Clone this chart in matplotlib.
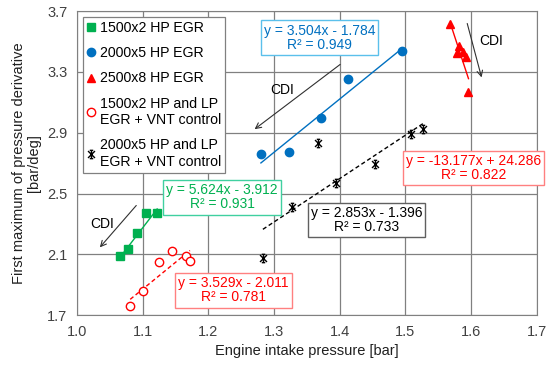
import numpy as np
import matplotlib
matplotlib.use("Agg")
import matplotlib.pyplot as plt
from matplotlib.path import Path

plt.rcParams['font.family'] = ['Liberation Sans', 'DejaVu Sans']

# data
x_g = [1.065, 1.078, 1.092, 1.105, 1.122]
y_g = [2.090, 2.134, 2.241, 2.369, 2.373]

x_b = [1.280, 1.323, 1.372, 1.413, 1.495]
y_b = [2.759, 2.774, 2.994, 3.255, 3.439]

x_t = [1.568, 1.582, 1.579, 1.588, 1.592, 1.596]
y_t = [3.614, 3.470, 3.422, 3.432, 3.395, 3.169]

x_o = [1.081, 1.100, 1.125, 1.145, 1.166, 1.172]
y_o = [1.761, 1.860, 2.047, 2.123, 2.088, 2.055]

x_s = [1.283, 1.327, 1.367, 1.394, 1.454, 1.508, 1.527]
y_s = [2.073, 2.409, 2.834, 2.570, 2.691, 2.891, 2.922]

labels = ["1500x2 HP EGR", "2000x5 HP EGR", "2500x8 HP EGR",
          "1500x2 HP and LP\nEGR + VNT control",
          "2000x5 HP and LP\nEGR + VNT control"]

# trendline coefficients (slope, intercept, r2)
fit_g = (5.624, -3.912, 0.931)
fit_b = (3.504, -1.784, 0.949)
fit_t = (-13.177, 24.286, 0.822)
fit_o = (3.529, -2.011, 0.781)
fit_s = (2.853, -1.396, 0.733)

green = '#00B050'
blue = '#0070C0'
red = '#FF0000'

star = Path([(-1, -1), (1, 1), (-1, 1), (1, -1), (0, -1.2), (0, 1.2),
             (-0.5, 1.2), (0.5, 1.2), (-0.5, -1.2), (0.5, -1.2)],
            [Path.MOVETO, Path.LINETO] * 5)

fig = plt.figure(figsize=(5.5, 3.69), dpi=100)
ax = fig.add_axes([0.14, 0.146, 0.836, 0.824])

ax.plot(x_g, y_g, 's', color=green, ms=5.5, label=labels[0], zorder=3)
ax.plot(x_b, y_b, 'o', color=blue, ms=6, label=labels[1], zorder=3)
ax.plot(x_t, y_t, '^', color=red, ms=6, label=labels[2], zorder=3)
ax.plot(x_o, y_o, 'o', mfc='white', mec=red, mew=1, ms=6, label=labels[3], zorder=3)
ax.plot(x_s, y_s, ls='none', marker=star, color='black', mew=1, ms=6,
        label=labels[4], zorder=3)


def trend(xs, fit, color, ls):
    xx = np.array([min(xs), max(xs)])
    ax.plot(xx, fit[0] * xx + fit[1], color=color, ls=ls, lw=1, zorder=2)


trend(x_g, fit_g, green, '-')
trend(x_b, fit_b, blue, '-')
trend(x_t, fit_t, red, '-')
trend(x_o, fit_o, red, (0, (3, 2)))
trend(x_s, fit_s, 'black', (0, (3, 2)))


def eq_box(x, y, fit, color, edge):
    sign = '-' if fit[1] < 0 else '+'
    txt = "y = %.3fx %s %.3f\nR² = %.3f" % (fit[0], sign, abs(fit[1]), fit[2])
    ax.text(x, y, txt, color=color, fontsize=10, ha='center', va='center',
            linespacing=1.0, zorder=4,
            bbox=dict(boxstyle='square,pad=0.22', fc='white', ec=edge, lw=1))


eq_box(1.369, 3.526, fit_b, blue, '#5BC0EB')
eq_box(1.604, 2.667, fit_t, red, '#FF8080')
eq_box(1.221, 2.474, fit_g, green, '#40D0A0')
eq_box(1.238, 1.862, fit_o, red, '#FF8080')
eq_box(1.441, 2.327, fit_s, 'black', '#606060')

# CDI arrows
arrows = [((1.093, 2.435), (1.032, 2.132), (1.038, 2.300)),
          ((1.404, 3.360), (1.267, 2.912), (1.313, 3.180)),
          ((1.593, 3.636), (1.617, 3.246), (1.630, 3.500))]
for start, end, tpos in arrows:
    ax.annotate('', xy=end, xytext=start,
                arrowprops=dict(arrowstyle='->', color='#303030', lw=0.8))
    ax.text(tpos[0], tpos[1], 'CDI', fontsize=10, ha='center', va='center')

ax.set_xlim(1.0, 1.7)
ax.set_ylim(1.7, 3.7)
ax.set_xticks(np.arange(1.0, 1.71, 0.1))
ax.set_yticks(np.arange(1.7, 3.71, 0.4))
ax.xaxis.set_major_formatter(plt.FormatStrFormatter('%.1f'))
ax.yaxis.set_major_formatter(plt.FormatStrFormatter('%.1f'))
ax.tick_params(length=0, labelsize=10.5, colors='#404040', pad=7)
ax.grid(True, color='#808080', lw=0.9)
ax.set_axisbelow(True)
for sp in ax.spines.values():
    sp.set_color('#808080')

ax.set_xlabel("Engine intake pressure [bar]", fontsize=10.5, color='#202020')
ax.set_ylabel("First maximum of pressure derivative\n[bar/deg]", fontsize=10.5,
              color='#202020', linespacing=1.1)

leg = ax.legend(loc='upper left', bbox_to_anchor=(0.012, 0.982), fontsize=10.2,
                frameon=True, fancybox=False, edgecolor='#808080',
                framealpha=1, handlelength=0.6, handletextpad=0.3,
                labelspacing=0.8, borderpad=0.3, borderaxespad=0)
leg.get_frame().set_linewidth(0.9)
leg.set_zorder(6)

fig.savefig("out.png", dpi=100)
